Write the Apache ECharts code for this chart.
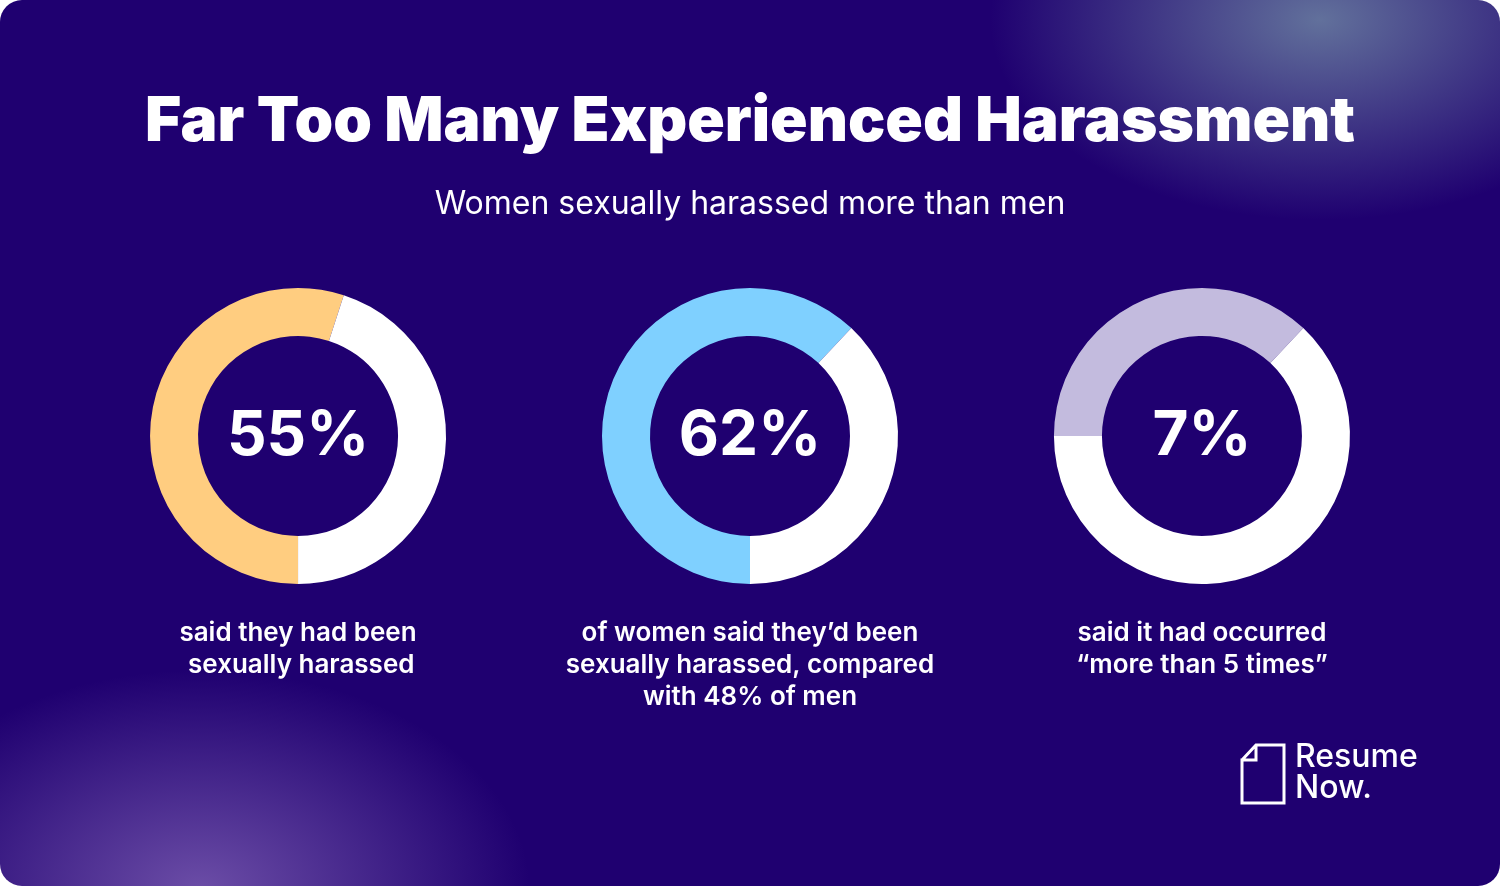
<!DOCTYPE html>
<html><head><meta charset="utf-8">
<script src="https://cdn.jsdelivr.net/npm/echarts@6/dist/echarts.min.js"></script>
<style>
html,body{margin:0;padding:0;background:#fff;}
#c{width:1500px;height:886px;border-radius:22px;overflow:hidden;
background:
radial-gradient(ellipse 330px 200px at 1320px 20px, rgba(120,150,170,0.75), rgba(120,150,170,0) 100%),
radial-gradient(ellipse 330px 220px at 200px 890px, rgba(140,110,190,0.7), rgba(140,110,190,0) 100%),
#1f0070;}
</style></head><body><div id="c"></div>
<script>
const bigLabels = ['55%','62%','7%'];
const captions = ['said they had been\n sexually harassed','of women said they\u2019d been\nsexually harassed, compared\nwith 48% of men','said it had occurred\n\u201cmore than 5 times\u201d'];
const highlighted = [55, 62, 37];
const remainder = [45, 38, 63];
const startAngles = [-90, -90, 180];
const colors = ['#ffcd80','#7fd0ff','#c3bbde'];
const centersX = ['19.87%','50%','80.13%'];

const chart = echarts.init(document.getElementById('c'));
const series = highlighted.map((v,i)=>({
  type:'pie', radius:[100,148], center:[centersX[i],436], startAngle:startAngles[i],
  silent:true, label:{show:false}, labelLine:{show:false},
  itemStyle:{borderWidth:0},
  data:[{value:v,itemStyle:{color:colors[i]}},{value:remainder[i],itemStyle:{color:'#ffffff'}}]
}));
const graphic = [];
bigLabels.forEach((t,i)=>{
  const x=[298,750,1202][i];
  graphic.push({type:'text',x:x,y:436,style:{text:t,fill:'#fff',font:'bold 62px Inter, "Noto Sans", sans-serif',align:'center',verticalAlign:'middle'}});
  graphic.push({type:'text',x:x,y:617,style:{text:captions[i],fill:'#fff',font:'600 26px Inter, "Noto Sans", sans-serif',align:'center',verticalAlign:'top',lineHeight:32}});
});
graphic.push({type:'polyline',shape:{points:[[1242,760],[1256,745],[1284,745],[1284,803],[1242,803],[1242,760],[1256,760],[1256,745]]},style:{stroke:'#fff',lineWidth:3,fill:null}});
graphic.push({type:'text',x:1295,y:742,style:{text:'Resume\nNow.',fill:'#fff',font:'500 32px Inter, "Noto Sans", sans-serif',lineHeight:31}});
chart.setOption({
  title:[{text:'Far Too Many Experienced Harassment',left:'center',top:86,textStyle:{color:'#fff',fontSize:62,fontWeight:900,fontFamily:'Inter, "Noto Sans", sans-serif'}},
         {text:'Women sexually harassed more than men',left:'center',top:183,textStyle:{color:'#fff',fontSize:32,fontWeight:400,fontFamily:'Inter, "Noto Sans", sans-serif'}}],
  series, graphic
});
</script>
<style>#c canvas{letter-spacing:0}</style>
</body></html>
